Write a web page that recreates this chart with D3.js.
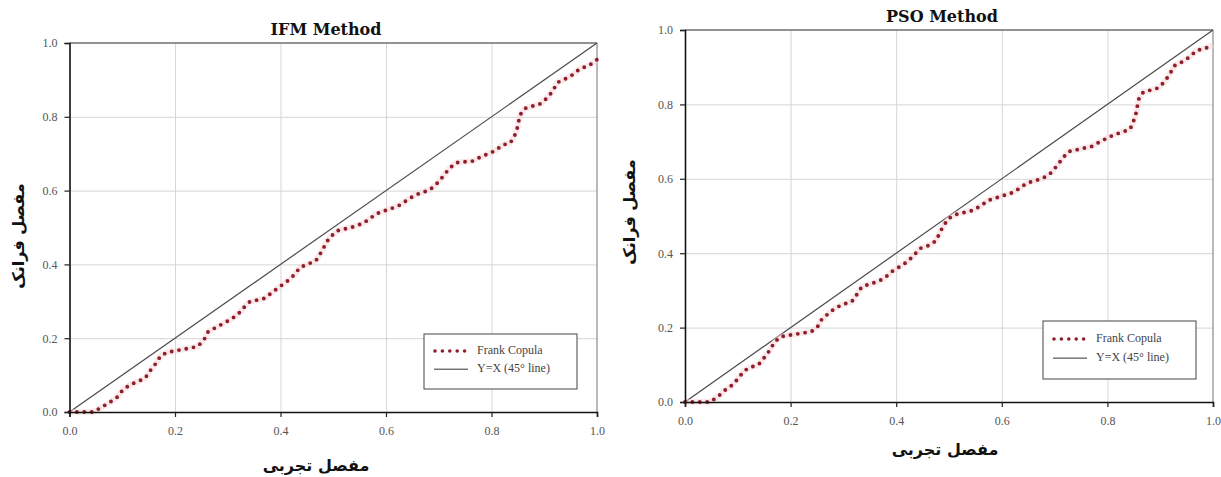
<!DOCTYPE html>
<html>
<head>
<meta charset="utf-8">
<script src="https://cdn.jsdelivr.net/npm/d3@7"></script>
<style>
  html, body { margin: 0; padding: 0; background: #ffffff; }
  svg { display: block; }
</style>
</head>
<body>
<svg id="chart" width="1221" height="477"></svg>
<script>
// ---------- DATA ----------
const panelTitles = ["IFM Method", "PSO Method"];
const xAxisTitle = "مفصل تجربی";
const yAxisTitle = "مفصل فرانک";
const tickValues = [0, 0.2, 0.4, 0.6, 0.8, 1.0];
const legendLabels = ["Frank Copula", "Y=X (45° line)"];
const diagonal = [[0, 0], [1, 1]];

// Frank copula vs empirical copula (IFM estimation)
const ifmFrank = [
  [0,0],[0.045,0],[0.061,0.013],[0.077,0.027],[0.091,0.041],[0.101,0.06],[0.115,0.074],[0.143,0.091],
  [0.154,0.114],[0.165,0.134],[0.173,0.153],[0.186,0.162],[0.242,0.177],[0.254,0.193],[0.263,0.218],
  [0.279,0.23],[0.307,0.252],[0.32,0.266],[0.333,0.287],[0.342,0.299],[0.37,0.308],[0.386,0.326],
  [0.4,0.341],[0.414,0.356],[0.427,0.373],[0.437,0.392],[0.467,0.41],[0.475,0.428],[0.484,0.451],
  [0.492,0.471],[0.507,0.491],[0.538,0.502],[0.552,0.509],[0.566,0.52],[0.581,0.537],[0.611,0.552],
  [0.625,0.56],[0.639,0.573],[0.655,0.588],[0.683,0.602],[0.697,0.62],[0.709,0.64],[0.72,0.66],
  [0.734,0.676],[0.764,0.68],[0.778,0.69],[0.807,0.708],[0.821,0.724],[0.835,0.728],[0.843,0.746],
  [0.848,0.764],[0.851,0.785],[0.855,0.807],[0.864,0.823],[0.892,0.835],[0.908,0.854],[0.918,0.875],
  [0.925,0.893],[0.939,0.902],[0.955,0.915],[0.968,0.931],[0.984,0.938],[1.0,0.955]
];

// Frank copula vs empirical copula (PSO estimation)
const psoFrank = [
  [0,0],[0.047,0],[0.061,0.013],[0.076,0.032],[0.09,0.046],[0.101,0.064],[0.112,0.084],[0.125,0.094],
  [0.139,0.1],[0.15,0.119],[0.161,0.14],[0.17,0.162],[0.182,0.176],[0.239,0.189],[0.251,0.202],
  [0.259,0.222],[0.271,0.237],[0.284,0.252],[0.3,0.263],[0.316,0.27],[0.325,0.288],[0.335,0.31],
  [0.363,0.323],[0.377,0.332],[0.391,0.35],[0.407,0.364],[0.421,0.377],[0.434,0.395],[0.445,0.413],
  [0.459,0.419],[0.475,0.433],[0.489,0.473],[0.5,0.494],[0.515,0.505],[0.545,0.515],[0.56,0.527],
  [0.574,0.542],[0.603,0.555],[0.617,0.561],[0.631,0.572],[0.647,0.588],[0.677,0.601],[0.691,0.613],
  [0.704,0.634],[0.715,0.655],[0.726,0.673],[0.77,0.687],[0.784,0.698],[0.8,0.71],[0.814,0.719],
  [0.843,0.733],[0.849,0.753],[0.854,0.775],[0.857,0.797],[0.86,0.817],[0.868,0.833],[0.896,0.844],
  [0.909,0.862],[0.919,0.884],[0.928,0.905],[0.941,0.914],[0.955,0.927],[0.969,0.945],[0.984,0.95],
  [1.0,0.96]
];

// ---------- LAYOUT ----------
const layouts = [
  { data: ifmFrank, left: 69.5, right: 597, top: 43, bottom: 412, titleX: 326, titleY: 30,
    xTitleX: 316, xTitleY: 466, yTitleX: 19, yTitleY: 236, legend: { x: 424, y: 334, w: 153, h: 55 } },
  { data: psoFrank, left: 685, right: 1213, top: 30, bottom: 402, titleX: 942, titleY: 17,
    xTitleX: 945, xTitleY: 450, yTitleX: 630, yTitleY: 212, legend: { x: 1043, y: 321, w: 153, h: 58 } }
];

const svg = d3.select("#chart");
const serif = "'Liberation Serif', 'Times New Roman', serif";
const dotColor = "#8e1f2a";

layouts.forEach((L, i) => {
  const x = d3.scaleLinear().domain([0, 1]).range([L.left, L.right]);
  const y = d3.scaleLinear().domain([0, 1]).range([L.bottom, L.top]);
  const g = svg.append("g");
  const W = L.right - L.left, H = L.bottom - L.top;

  // grid
  g.append("g").attr("transform", `translate(0,${L.bottom})`)
    .call(d3.axisBottom(x).tickValues(tickValues.slice(1, -1)).tickSize(-H).tickFormat(""))
    .call(a => a.select(".domain").remove())
    .call(a => a.selectAll("line").attr("stroke", "#d6d6d6").attr("stroke-width", 1));
  g.append("g").attr("transform", `translate(${L.left},0)`)
    .call(d3.axisLeft(y).tickValues(tickValues.slice(1, -1)).tickSize(-W).tickFormat(""))
    .call(a => a.select(".domain").remove())
    .call(a => a.selectAll("line").attr("stroke", "#d6d6d6").attr("stroke-width", 1));

  // frame (top, right)
  g.append("line").attr("x1", L.left).attr("x2", L.right).attr("y1", L.top).attr("y2", L.top)
    .attr("stroke", "#6e6e6e").attr("stroke-width", 1.3);
  g.append("line").attr("x1", L.right).attr("x2", L.right).attr("y1", L.top).attr("y2", L.bottom)
    .attr("stroke", "#8a8a8a").attr("stroke-width", 1.2);

  // 45 degree line
  const line = d3.line().x(d => x(d[0])).y(d => y(d[1]));
  g.append("path").datum(diagonal).attr("d", line)
    .attr("fill", "none").attr("stroke", "#4a4a4a").attr("stroke-width", 1.2);

  // Frank copula dotted curve
  g.append("path").datum(L.data).attr("d", line)
    .attr("fill", "none").attr("stroke", "#f6d3d6").attr("stroke-width", 6).attr("opacity", 0.5);
  g.append("path").datum(L.data).attr("d", line)
    .attr("fill", "none").attr("stroke", dotColor).attr("stroke-width", 3.9)
    .attr("stroke-linecap", "round").attr("stroke-dasharray", "0 7.4");

  // axes
  const fmt = d3.format(".1f");
  const ax = g.append("g").attr("transform", `translate(0,${L.bottom})`)
    .call(d3.axisBottom(x).tickValues(tickValues).tickFormat(fmt).tickSize(5).tickPadding(9));
  const ay = g.append("g").attr("transform", `translate(${L.left},0)`)
    .call(d3.axisLeft(y).tickValues(tickValues).tickFormat(fmt).tickSize(5).tickPadding(7));
  [ax, ay].forEach(a => {
    a.select(".domain").attr("stroke", "#111").attr("stroke-width", 1.6);
    a.selectAll(".tick line").attr("stroke", "#222").attr("stroke-width", 1.2);
    a.selectAll(".tick text").attr("font-family", serif).attr("font-size", 12).attr("fill", "#555");
  });

  // title
  svg.append("text").attr("x", L.titleX).attr("y", L.titleY)
    .attr("text-anchor", "middle").attr("dominant-baseline", "middle")
    .attr("font-family", "'DejaVu Serif', serif").attr("font-weight", "bold")
    .attr("font-size", 16).attr("fill", "#111").text(panelTitles[i]);

  // axis titles
  svg.append("text").attr("x", L.xTitleX).attr("y", L.xTitleY)
    .attr("text-anchor", "middle").attr("dominant-baseline", "middle")
    .attr("font-family", "'DejaVu Sans', sans-serif").attr("font-weight", "bold")
    .attr("font-size", 16).attr("fill", "#111").attr("direction", "rtl").text(xAxisTitle);
  svg.append("text")
    .attr("transform", `translate(${L.yTitleX},${L.yTitleY}) rotate(-90)`)
    .attr("text-anchor", "middle").attr("dominant-baseline", "middle")
    .attr("font-family", "'DejaVu Sans', sans-serif").attr("font-weight", "bold")
    .attr("font-size", 16).attr("fill", "#111").attr("direction", "rtl").text(yAxisTitle);

  // legend
  const lg = svg.append("g").attr("transform", `translate(${L.legend.x},${L.legend.y})`);
  lg.append("rect").attr("width", L.legend.w).attr("height", L.legend.h)
    .attr("fill", "#fff").attr("stroke", "#444").attr("stroke-width", 1);
  const rowY = [L.legend.h * 0.31, L.legend.h * 0.64];
  lg.append("line").attr("x1", 11).attr("x2", 43).attr("y1", rowY[0]).attr("y2", rowY[0])
    .attr("stroke", dotColor).attr("stroke-width", 3.6).attr("stroke-linecap", "round")
    .attr("stroke-dasharray", "0 7.4");
  lg.append("line").attr("x1", 10).attr("x2", 44).attr("y1", rowY[1]).attr("y2", rowY[1])
    .attr("stroke", "#333").attr("stroke-width", 1);
  legendLabels.forEach((t, k) => {
    lg.append("text").attr("x", 53).attr("y", rowY[k]).attr("dominant-baseline", "middle")
      .attr("font-family", serif).attr("font-size", 12).attr("fill", "#444").text(t);
  });
});
</script>
</body>
</html>
